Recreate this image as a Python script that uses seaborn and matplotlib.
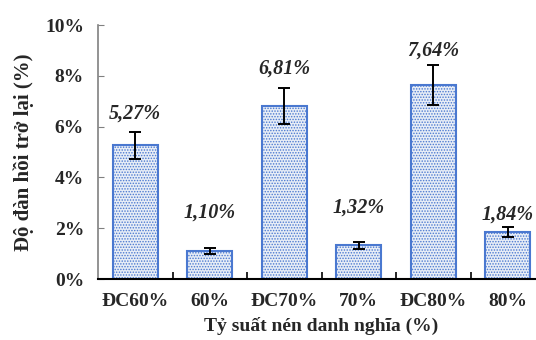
import matplotlib
matplotlib.use('Agg')
import matplotlib.pyplot as plt
import seaborn as sns
from matplotlib.ticker import FuncFormatter

# du lieu doc tu hinh
nhom = ['ĐC60%', '60%', 'ĐC70%', '70%', 'ĐC80%', '80%']
do_dan_hoi = [5.27, 1.10, 6.81, 1.32, 7.64, 1.84]
sai_so = [0.53, 0.11, 0.71, 0.14, 0.77, 0.20]
nhan = ['5,27%', '1,10%', '6,81%', '1,32%', '7,64%', '1,84%']
vi_tri_nhan = [6.5, 2.6, 8.3, 2.8, 9.0, 2.55]

sns.set_style('white')
plt.rcParams['font.family'] = ['Liberation Serif', 'DejaVu Serif']
plt.rcParams['hatch.linewidth'] = 0.7

fig = plt.figure(figsize=(5.36, 3.4), dpi=100)
ax = fig.add_axes([98/536, 61/340, 447/536, 254/340])

mau_vien = '#4a78d0'
ax = sns.barplot(x=nhom, y=do_dan_hoi, width=0.6, color='#e4ecf8',
                 edgecolor=mau_vien, linewidth=1.5, ax=ax)
for p in ax.patches:
    p.set_hatch('......')

ax.errorbar(range(len(nhom)), do_dan_hoi, yerr=sai_so, fmt='none',
            ecolor='black', elinewidth=1.4, capsize=4, capthick=1.4)

for i, (t, y) in enumerate(zip(nhan, vi_tri_nhan)):
    ax.text(i, y, t, ha='center', va='center', fontsize=14.5,
            fontweight='bold', fontstyle='italic')

ax.set_xlim(-0.5, 5.5)
ax.set_ylim(0, 10)
ax.set_yticks([0, 2, 4, 6, 8, 10])
ax.yaxis.set_major_formatter(FuncFormatter(lambda v, _: f'{v:.0f}%'))

ax.set_ylabel('Độ đàn hồi trở lại (%)', fontsize=15, fontweight='bold', labelpad=8)
ax.set_xlabel('Tỷ suất nén danh nghĩa (%)', fontsize=14, fontweight='bold', labelpad=5)

for s in ['top', 'right']:
    ax.spines[s].set_visible(False)
ax.spines['left'].set_color('#808080')
ax.spines['left'].set_linewidth(1.2)
ax.spines['bottom'].set_color('black')
ax.spines['bottom'].set_linewidth(1.5)

ax.tick_params(axis='y', direction='in', length=4, color='#808080',
               labelsize=14, left=True, pad=10)
ax.tick_params(axis='x', length=0, labelsize=14, pad=10)
for lb in ax.get_xticklabels() + ax.get_yticklabels():
    lb.set_fontweight('bold')

ax.set_xticks([0.5, 1.5, 2.5, 3.5, 4.5, 5.5], minor=True)
ax.tick_params(axis='x', which='minor', direction='in', length=5,
               width=1.2, color='black', bottom=True)

fig.savefig('out.png', dpi=100)
